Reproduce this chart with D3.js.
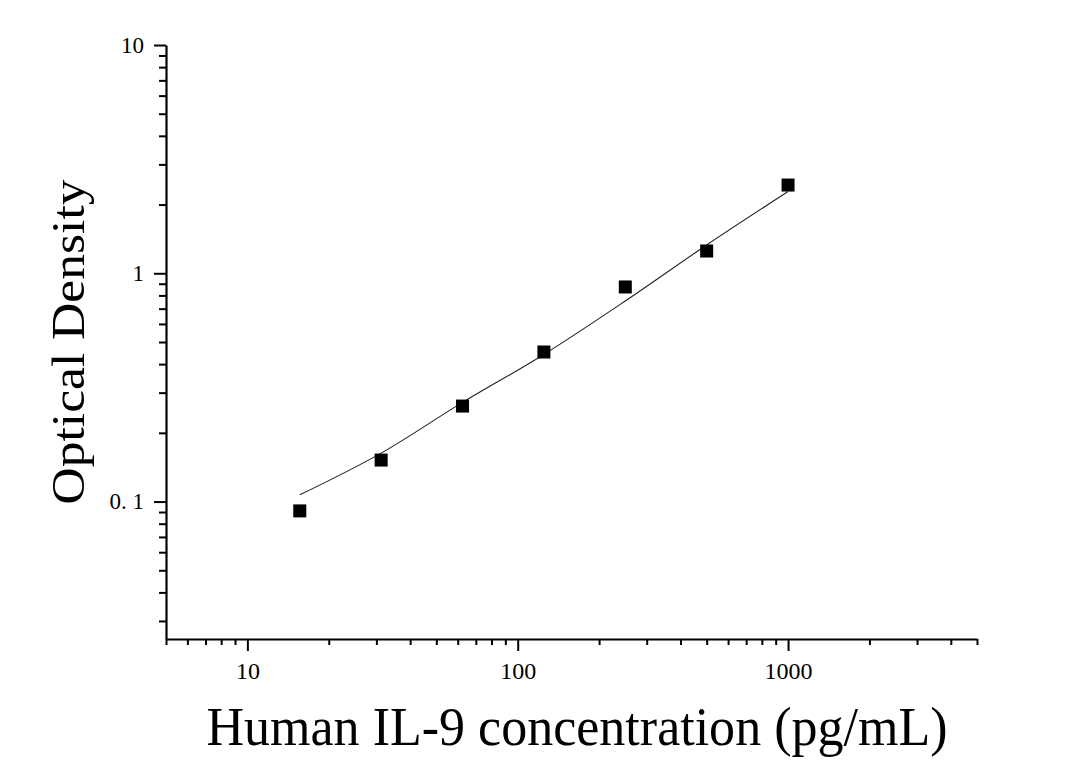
<!DOCTYPE html>
<html>
<head>
<meta charset="utf-8">
<script src="https://cdn.jsdelivr.net/npm/d3@7"></script>
<style>
  body { margin: 0; background: #fff; }
  text { font-family: "Liberation Serif", "Times New Roman", serif; fill: #000; }
</style>
</head>
<body>
<div id="chart"></div>
<script>
// standard points (pg/mL vs OD)
var concentration = [15.625, 31.25, 62.5, 125, 250, 500, 1000];
var opticalDensity = [0.091, 0.152, 0.262, 0.452, 0.871, 1.252, 2.435];

// fitted curve at each standard
var curveConc = [15.625, 31.25, 62.5, 125, 250, 500, 1000];
var curveOD = [0.107, 0.163, 0.272, 0.441, 0.756, 1.33, 2.28];

var xMajor = [10, 100, 1000];
var xMajorLabels = ["10", "100", "1000"];
var xMinor = [5, 6, 7, 8, 9, 20, 30, 40, 50, 60, 70, 80, 90,
              200, 300, 400, 500, 600, 700, 800, 900, 2000, 3000, 4000, 5000];
var yMajor = [0.1, 1, 10];
var yMajorLabels = ["0. 1", "1", "10"];
var yMinor = [0.03, 0.04, 0.05, 0.06, 0.07, 0.08, 0.09,
              0.2, 0.3, 0.4, 0.5, 0.6, 0.7, 0.8, 0.9,
              2, 3, 4, 5, 6, 7, 8, 9];

var width = 1065, height = 784;
var svg = d3.select("#chart")
  .append("svg")
    .attr("width", width)
    .attr("height", height);

var x = d3.scaleLog()
    .domain([5, 5000])
    .range([166, 977]);

var y = d3.scaleLog()
    .domain([0.025, 10])
    .range([639, 45]);

// x axis: minor then major
svg.append("g")
    .attr("transform", "translate(0,639)")
    .call(d3.axisBottom(x).tickValues(xMinor).tickSize(6).tickFormat(""))
    .call(function (g) { g.select(".domain").remove(); })
    .selectAll("line").attr("stroke-width", 2);

var xAx = svg.append("g")
    .attr("transform", "translate(0,639)")
    .call(d3.axisBottom(x).tickValues(xMajor).tickSize(12).tickSizeOuter(0).tickPadding(11)
      .tickFormat(function (d, i) { return xMajorLabels[i]; }));
xAx.select(".domain").attr("stroke-width", 2.2);
xAx.selectAll("line").attr("stroke-width", 2);
xAx.selectAll("text")
    .style("font-size", "24px")
    .attr("fill", "#000");

// y axis
svg.append("g")
    .attr("transform", "translate(166,0)")
    .call(d3.axisLeft(y).tickValues(yMinor).tickSize(7).tickFormat(""))
    .call(function (g) { g.select(".domain").remove(); })
    .selectAll("line").attr("stroke-width", 2);

var yAx = svg.append("g")
    .attr("transform", "translate(166,0)")
    .call(d3.axisLeft(y).tickValues(yMajor).tickSize(12).tickSizeOuter(0).tickPadding(10)
      .tickFormat(function (d, i) { return yMajorLabels[i]; }));
yAx.select(".domain").attr("stroke-width", 2.2);
yAx.selectAll("line").attr("stroke-width", 2);
yAx.selectAll("text")
    .style("font-size", "23px")
    .attr("fill", "#000");

// fitted line
var line = d3.line()
    .x(function (d, i) { return x(curveConc[i]); })
    .y(function (d) { return y(d); })
    .curve(d3.curveMonotoneX);

svg.append("path")
    .datum(curveOD)
    .attr("d", line)
    .attr("fill", "none")
    .attr("stroke", "#222")
    .attr("stroke-width", 1.1);

// points
var size = 13;
svg.append("g")
  .selectAll("rect")
  .data(opticalDensity)
  .enter()
  .append("rect")
    .attr("x", function (d, i) { return x(concentration[i]) - size / 2; })
    .attr("y", function (d) { return y(d) - size / 2; })
    .attr("width", size)
    .attr("height", size)
    .attr("fill", "#000");

// axis titles
svg.append("text")
    .attr("x", 577)
    .attr("y", 745)
    .attr("text-anchor", "middle")
    .attr("textLength", 741)
    .attr("lengthAdjust", "spacingAndGlyphs")
    .style("font-size", "54px")
    .text("Human IL-9 concentration (pg/mL)");

svg.append("text")
    .attr("transform", "translate(84,342) rotate(-90)")
    .attr("text-anchor", "middle")
    .attr("textLength", 325)
    .attr("lengthAdjust", "spacingAndGlyphs")
    .style("font-size", "47px")
    .text("Optical Density");
</script>
</body>
</html>
